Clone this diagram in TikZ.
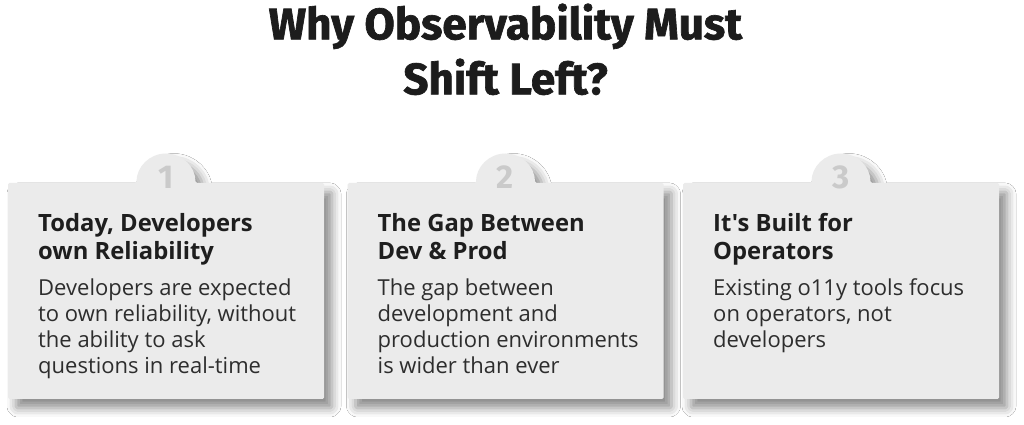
\documentclass[tikz,border=0pt]{standalone}
\usepackage{fontspec}
\usetikzlibrary{shadows.blur}
\newfontfamily\titlefont{Fira Sans}[BoldFeatures={FakeBold=1.5}]
\newfontfamily\numfont{Fira Sans}
\newfontfamily\cardfont{Open Sans}[Ligatures=TeXOff]
\definecolor{cardfill}{RGB}{235,235,235}
\definecolor{numcol}{RGB}{202,202,202}
\definecolor{headcol}{RGB}{30,30,30}
\definecolor{bodycol}{RGB}{45,45,45}
\definecolor{titlecol}{RGB}{28,28,28}
\tikzset{
  cardshape/.style={fill=cardfill, rounded corners=1.5pt,
    blur shadow={shadow xshift=8pt, shadow yshift=-9pt, shadow blur radius=9pt, shadow opacity=45}},
  numstyle/.style={anchor=base, inner sep=0pt, text=numcol, font=\numfont\bfseries\fontsize{33}{33}\selectfont},
  headstyle/.style={anchor=base west, inner sep=0pt, align=left, text=headcol,
    font=\cardfont\bfseries\fontsize{23.8}{28}\selectfont},
  bodystyle/.style={anchor=base west, inner sep=0pt, align=left, text=bodycol,
    font=\cardfont\fontsize{22}{26}\selectfont},
  titlestyle/.style={anchor=base, inner sep=0pt, text=titlecol, font=\titlefont\bfseries\fontsize{44}{55}\selectfont}
}
\begin{document}
\begin{tikzpicture}[x=1pt,y=1pt]
\useasboundingbox (0,0) rectangle (1024,425);
\fill[white] (0,0) rectangle (1024,425);
% title
\node[titlestyle] (t1) at (505.5,385.7) {Why Observability Must};
\node[titlestyle] (t2) at (505.5,330.7) {Shift Left?};
% cards
\foreach \i/\x in {1/8,2/347.5,3/683}{
  \path[cardshape] (\x,242) -- ({\x+158-29.5},242)
     arc[start angle=180,end angle=0,radius=29.5] -- ({\x+316},242)
     -- ({\x+316},26) -- (\x,26) -- cycle;
  \node[numstyle] (n\i) at ({\x+158},236) {\i};
}
% card 1 (anchor = baseline of the last line)
\node[headstyle] (h1) at (38,165) {Today, Developers\\own Reliability};
\node[bodystyle] (b1) at (38,51) {Developers are expected\\to own reliability, without\\the ability to ask\\questions in real-time};
% card 2
\node[headstyle] (h2) at (377.5,165) {The Gap Between\\Dev \& Prod};
\node[bodystyle] (b2) at (377.5,51) {The gap between\\development and\\production environments\\is wider than ever};
% card 3
\node[headstyle] (h3) at (713,165) {It's Built for\\Operators};
\node[bodystyle] (b3) at (713,77) {Existing o11y tools focus\\on operators, not\\developers};
\end{tikzpicture}
\end{document}
